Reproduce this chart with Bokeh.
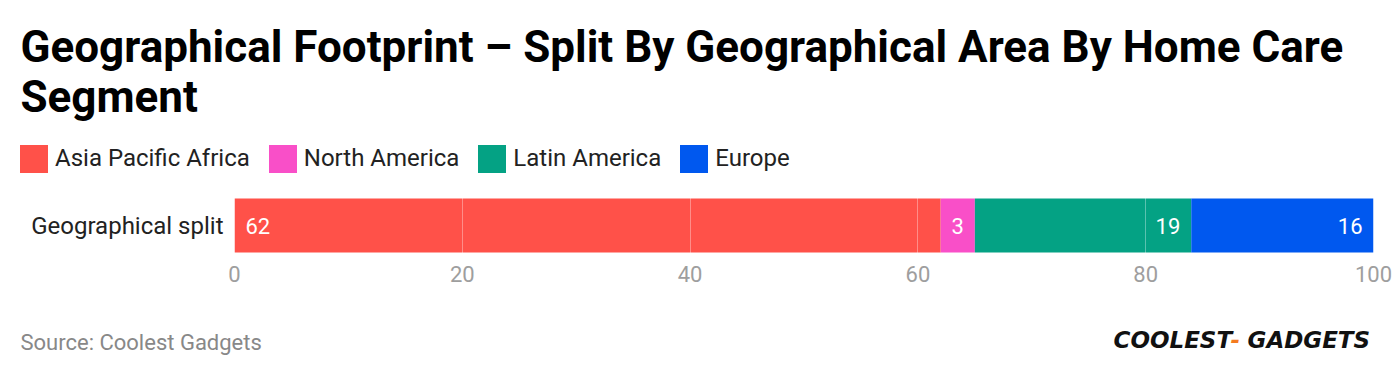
import numpy as np
from bokeh.plotting import figure
from bokeh.layouts import column
from bokeh.models import ColumnDataSource, Range1d, FactorRange, FixedTicker, Label
from bokeh.core.properties import value, field
from bokeh.embed import file_html
from bokeh.resources import INLINE

# ---- data ----
title_lines = ["Geographical Footprint \u2013 Split By Geographical Area By Home Care", "Segment"]
category = "Geographical split"
regions = ["Asia Pacific Africa", "North America", "Latin America", "Europe"]
values = [62, 3, 19, 16]
colors = ["#FF5149", "#F94FC8", "#04A284", "#0058EF"]
x_ticks = [0, 20, 40, 60, 80, 100]
source_text = "Source: Coolest Gadgets"
logo_parts = ["COOLEST", "-", "GADGETS"]

FONT = "Roboto"
W = 1396


def blank(height):
    f = figure(width=W, height=height, x_range=Range1d(0, W), y_range=Range1d(height, 0),
               x_axis_location=None, y_axis_location=None, min_border=0,
               output_backend="svg", toolbar_location=None, tools="")
    f.frame_align = False
    f.outline_line_color = None
    f.grid.visible = False
    return f


# ---- header: title + legend ----
top = blank(180)
for txt, yy in zip(title_lines, [46, 96]):
    top.add_layout(Label(x=20, y=yy, text=txt, text_font=FONT, text_font_size="44px",
                         text_font_style="bold", text_color="#000000",
                         text_baseline="alphabetic"))

leg_src = ColumnDataSource(dict(x=[np.nan] * len(regions), y=[np.nan] * len(regions),
                                region=regions, color=colors))
top.hbar(y="y", left="x", right="x", height=1, color="color", line_color=None,
         legend_field="region", source=leg_src)
lg = top.legend[0]
lg.orientation = "horizontal"
lg.location = (16, 4.5)
lg.glyph_width = 35
lg.glyph_height = 35
lg.label_standoff = 4
lg.spacing = 15
lg.padding = 0
lg.margin = 0
lg.border_line_color = None
lg.background_fill_alpha = 0
lg.label_text_font = FONT
lg.label_text_font_size = "24px"
lg.label_text_color = "#222222"

# ---- main bar ----
rights = np.cumsum(values)
lefts = rights - np.array(values)
label_x = [float(lefts[0])] + [float(r) for r in rights[1:]]
aligns = ["left"] + ["right"] * (len(values) - 1)
offs = [11] + [-11] * (len(values) - 1)

src = ColumnDataSource(dict(
    y=[category] * len(values), left=lefts.astype(float), right=rights.astype(float),
    region=regions, color=colors, txt=[str(v) for v in values],
    lx=label_x, align=aligns, xoff=offs,
))

p = figure(
    y_range=FactorRange(category, range_padding=0),
    x_range=Range1d(0, 100),
    frame_width=1139, frame_height=72,
    min_border_left=234, min_border_right=23, min_border_top=9, min_border_bottom=49,
    output_backend="svg", toolbar_location=None, tools="",
)
p.frame_align = False
p.outline_line_color = None

p.hbar(y="y", left="left", right="right", height=0.75, color="color",
       line_color=None, source=src)

p.text(x="lx", y="y", text="txt", x_offset=field("xoff"), text_align=field("align"),
       text_baseline="middle", text_color="white", text_font=value(FONT),
       text_font_size="22px", source=src)

xa = p.xaxis[0]
xa.ticker = FixedTicker(ticks=x_ticks)
xa.axis_line_color = None
xa.major_tick_line_color = None
xa.minor_tick_line_color = None
xa.major_tick_out = 0
xa.major_label_standoff = 4
xa.major_label_text_font = FONT
xa.major_label_text_font_size = "22px"
xa.major_label_text_color = "#9e9e9e"

ya = p.yaxis[0]
ya.axis_line_color = None
ya.major_tick_line_color = None
ya.minor_tick_line_color = None
ya.major_tick_out = 0
ya.major_label_standoff = 11
ya.major_label_text_font = FONT
ya.major_label_text_font_size = "24px"
ya.major_label_text_color = "#222222"

p.ygrid.grid_line_color = None
p.xgrid.ticker = FixedTicker(ticks=x_ticks)
p.xgrid.grid_line_color = "white"
p.xgrid.grid_line_alpha = 0.35
p.xgrid.grid_line_width = 1
p.xgrid.level = "overlay"

# ---- footer ----
bot = blank(66)
bot.add_layout(Label(x=20, y=32, text=source_text, text_font=FONT, text_font_size="22px",
                     text_color="#888888", text_baseline="alphabetic"))
logo_x = [1113, 1230, 1247]
logo_col = ["#111111", "#F47B20", "#111111"]
for t, lx, c in zip(logo_parts, logo_x, logo_col):
    bot.add_layout(Label(x=lx, y=29, text=t, text_font="DejaVu Sans", text_font_size="23px",
                         text_font_style="bold italic", text_color=c,
                         text_baseline="alphabetic"))

layout = column(top, p, bot, spacing=0)
open("out.html", "w").write(file_html(layout, INLINE))
